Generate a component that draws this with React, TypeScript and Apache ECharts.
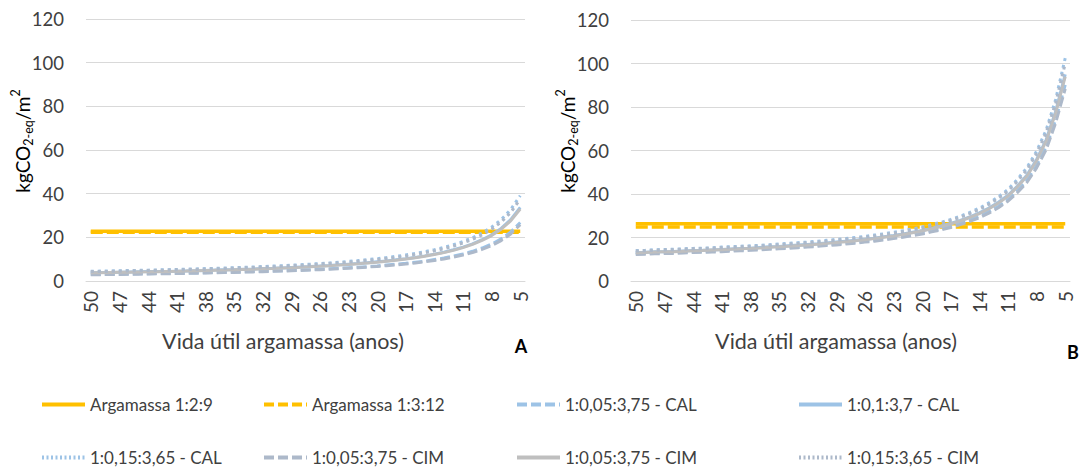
import React, { useEffect, useRef } from 'react';
import * as echarts from 'echarts';

const years = ['50','49','48','47','46','45','44','43','42','41','40','39','38','37','36','35','34','33','32','31','30','29','28','27','26','25','24','23','22','21','20','19','18','17','16','15','14','13','12','11','10','9','8','7','6','5'];

// Panel A values (kgCO2-eq/m2)
const a129 = 22.8;
const a1312 = 22.3;
const aCalDash = [3.0,3.0,3.1,3.1,3.2,3.3,3.3,3.4,3.5,3.5,3.6,3.7,3.8,3.9,4.0,4.1,4.2,4.3,4.4,4.6,4.7,4.9,5.0,5.2,5.4,5.6,5.8,6.1,6.3,6.6,6.9,7.3,7.7,8.1,8.6,9.1,9.8,10.5,11.4,12.4,13.6,15.1,16.9,19.3,22.4,26.8];
const aCalSolid = [3.8,3.9,3.9,4.0,4.1,4.2,4.3,4.3,4.4,4.5,4.6,4.7,4.8,5.0,5.1,5.2,5.4,5.5,5.7,5.8,6.0,6.2,6.4,6.6,6.9,7.1,7.4,7.7,8.0,8.4,8.8,9.2,9.7,10.2,10.8,11.5,12.3,13.2,14.3,15.5,17.0,18.9,21.2,24.1,28.1,33.7];
const aCalDot = [4.45,4.53,4.61,4.70,4.78,4.88,4.98,5.08,5.18,5.30,5.41,5.54,5.67,5.80,5.95,6.10,6.26,6.43,6.62,6.81,7.02,7.24,7.48,7.73,8.00,8.30,8.62,8.97,9.35,9.77,10.23,10.73,11.29,11.92,12.63,13.43,14.35,15.41,16.64,18.10,19.85,21.99,24.66,28.10,32.68,39.1];
const aCimDash = [2.85,2.90,2.96,3.01,3.07,3.13,3.20,3.27,3.34,3.41,3.49,3.57,3.66,3.75,3.84,3.94,4.05,4.16,4.28,4.41,4.55,4.70,4.85,5.02,5.20,5.40,5.61,5.84,6.10,6.37,6.68,7.01,7.38,7.80,8.27,8.80,9.41,10.11,10.93,11.89,13.05,14.47,16.24,18.51,21.55,25.8];
const aCimSolid = [3.75,3.82,3.89,3.96,4.03,4.11,4.19,4.28,4.37,4.46,4.56,4.67,4.78,4.89,5.01,5.14,5.28,5.42,5.58,5.74,5.92,6.10,6.30,6.52,6.75,7.00,7.27,7.57,7.89,8.24,8.63,9.05,9.53,10.06,10.66,11.33,12.11,13.00,14.04,15.27,16.75,18.56,20.81,23.71,27.58,33.0];
const aCimDot = [4.3,4.4,4.4,4.5,4.6,4.7,4.8,4.9,5.0,5.1,5.2,5.3,5.4,5.6,5.7,5.9,6.0,6.2,6.4,6.5,6.7,7.0,7.2,7.4,7.7,8.0,8.3,8.6,9.0,9.4,9.8,10.3,10.8,11.4,12.1,12.9,13.8,14.8,16.0,17.4,19.1,21.1,23.7,27.0,31.4,37.5];

// Panel B values (kgCO2-eq/m2)
const b129 = 26.3;
const b1312 = 24.8;
const bCalDash = [12.5,12.6,12.8,12.9,13.0,13.2,13.3,13.4,13.6,13.8,14.0,14.2,14.4,14.6,14.9,15.1,15.4,15.6,15.9,16.2,16.6,17.0,17.4,17.8,18.2,18.7,19.3,19.9,20.5,21.3,22.1,23.0,24.0,25.2,26.5,28.0,29.8,31.9,34.4,37.4,41.6,46.4,53.1,61.7,74.2,90.2];
const bCalSolid = [13.1,13.2,13.4,13.5,13.6,13.8,14.0,14.1,14.3,14.5,14.7,14.9,15.1,15.4,15.7,15.9,16.2,16.5,16.8,17.1,17.5,17.9,18.3,18.7,19.2,19.7,20.3,20.9,21.6,22.4,23.2,24.2,25.3,26.5,27.9,29.5,31.3,33.5,36.2,39.4,43.7,48.8,55.9,64.9,78.1,95.0];
const bCalDot = [14.0,14.1,14.4,14.5,14.6,14.8,15.0,15.1,15.3,15.6,15.8,16.0,16.2,16.4,16.7,17.0,17.3,17.6,17.9,18.3,18.7,19.1,19.5,20.0,20.5,21.1,21.7,22.4,23.1,24.0,24.8,25.9,27.0,28.3,29.8,31.5,33.5,35.9,38.7,42.1,46.8,52.2,59.7,69.4,83.5,102.5];
const bCimDash = [12.2,12.3,12.5,12.6,12.7,12.9,13.1,13.2,13.3,13.5,13.7,13.9,14.1,14.3,14.6,14.8,15.0,15.3,15.6,15.9,16.3,16.6,17.0,17.4,17.9,18.3,18.9,19.5,20.1,20.9,21.6,22.6,23.5,24.6,25.9,27.4,29.1,31.2,33.7,36.7,40.7,45.4,52.0,60.4,72.7,88.4];
const bCimSolid = [13.0,13.1,13.3,13.4,13.5,13.7,13.9,14.0,14.2,14.4,14.6,14.8,15.0,15.2,15.5,15.7,16.0,16.3,16.6,16.9,17.3,17.7,18.1,18.5,19.0,19.5,20.1,20.7,21.4,22.2,23.0,24.0,25.0,26.2,27.6,29.2,31.0,33.2,35.8,39.0,43.3,48.3,55.3,64.3,77.3,94.0];
const bCimDot = [13.8,13.9,14.1,14.3,14.4,14.6,14.8,14.9,15.1,15.3,15.5,15.7,15.9,16.1,16.4,16.7,17.0,17.3,17.6,17.9,18.3,18.7,19.2,19.6,20.1,20.7,21.3,21.9,22.7,23.5,24.4,25.4,26.5,27.8,29.3,31.0,32.9,35.2,38.0,41.3,45.9,51.2,58.6,68.1,81.9,100.0];

const names = [
  'Argamassa 1:2:9',
  'Argamassa 1:3:12',
  '1:0,05:3,75 - CAL',
  '1:0,1:3,7 - CAL',
  '1:0,15:3,65 - CAL',
  '1:0,05:3,75 - CIM',
  '1:0,05:3,75 - CIM',
  '1:0,15:3,65 - CIM',
];

const FONT = 'Lato';
const TXT = '#404040';
const YEL = '#FFC000';
const BLUE = '#9DC3E6';
const GBLUE = '#ADB9CA';
const GRAY = '#BFBFBF';

const styles = [
  { color: YEL, type: 'solid', width: 3.5 },
  { color: YEL, type: [12, 4], width: 3.5 },
  { color: BLUE, type: [10, 4], width: 3 },
  { color: BLUE, type: 'solid', width: 3 },
  { color: BLUE, type: [3, 4], width: 3 },
  { color: GBLUE, type: [10, 4], width: 3 },
  { color: GRAY, type: 'solid', width: 3 },
  { color: GBLUE, type: [3, 4], width: 3 },
];

const legendDash: any[] = ['solid', [10, 4], [10, 4], 'solid', [2, 2.5], [10, 4], 'solid', [2, 2.5]];

function panelSeries(idx: number, vals: (number[])[]) {
  return vals.map((data, i) => ({
    type: 'line',
    name: names[i],
    xAxisIndex: idx,
    yAxisIndex: idx,
    data,
    symbol: 'none',
    showSymbol: false,
    lineStyle: { color: styles[i].color, type: styles[i].type, width: styles[i].width, cap: 'butt' },
    itemStyle: { color: styles[i].color },
    silent: true,
  }));
}

const legendPos = [
  [40, 396], [262, 396], [515, 396], [797, 396],
  [40, 449], [262, 449], [515, 449], [797, 449],
];

export default function App() {
  const ref = useRef<HTMLDivElement>(null);
  useEffect(() => {
    document.body.style.margin = '0';
    const chart = echarts.init(ref.current as HTMLDivElement, null, { renderer: 'svg' });

    const xAxisBase = (gridIndex: number) => ({
      type: 'category',
      gridIndex,
      data: years,
      boundaryGap: true,
      axisLine: { show: true, lineStyle: { color: '#d9d9d9', width: 1 } },
      axisTick: { show: false },
      axisLabel: { interval: 2, rotate: 90, fontSize: 19, fontFamily: FONT, color: TXT, margin: 10 },
    });
    const yAxisBase = (gridIndex: number) => ({
      type: 'value',
      gridIndex,
      min: 0,
      max: 120,
      interval: 20,
      axisLine: { show: false },
      axisTick: { show: false },
      splitLine: { lineStyle: { color: '#d9d9d9', width: 1 } },
      axisLabel: { fontSize: 18.5, fontFamily: FONT, color: TXT, margin: 22 },
    });

    const rich = {
      a: { fontSize: 19, fontFamily: FONT, color: TXT, lineHeight: 26 },
      s: { fontSize: 12.5, fontFamily: FONT, color: TXT, verticalAlign: 'bottom', lineHeight: 13 },
      p: { fontSize: 12.5, fontFamily: FONT, color: TXT, verticalAlign: 'top', lineHeight: 13 },
    };
    const yTitle = '{a|kgCO}{s|2-eq}{a|/m}{p|2}';

    const legends = names.map((nm, i) => {
      const item: any = {
        name: nm,
        lineStyle: { color: styles[i].color, type: legendDash[i], width: 4 },
      };
      return {
        left: legendPos[i][0],
        top: legendPos[i][1],
        orient: 'horizontal',
        itemWidth: 43,
        itemHeight: 14,
        selectedMode: false,
        padding: 0,
        itemStyle: { opacity: 0, borderWidth: 0 },
        textStyle: { fontSize: 17, fontFamily: FONT, color: TXT },
        data: [item],
      };
    });

    const option: any = {
      animation: false,
      backgroundColor: '#ffffff',
      grid: [
        { left: 86, top: 19, width: 439, height: 262 },
        { left: 631, top: 20, width: 439, height: 261 },
      ],
      xAxis: [xAxisBase(0), xAxisBase(1)],
      yAxis: [yAxisBase(0), yAxisBase(1)],
      legend: legends,
      series: [
        ...panelSeries(0, [years.map(() => a129), years.map(() => a1312), aCalDash, aCalSolid, aCalDot, aCimDash, aCimSolid, aCimDot]),
        ...panelSeries(1, [years.map(() => b129), years.map(() => b1312), bCalDash, bCalSolid, bCalDot, bCimDash, bCimSolid, bCimDot]),
      ],
      graphic: [
        { type: 'text', x: 22, y: 141, rotation: Math.PI / 2, style: { text: yTitle, rich, align: 'center', verticalAlign: 'middle' } },
        { type: 'text', x: 567, y: 141, rotation: Math.PI / 2, style: { text: yTitle, rich, align: 'center', verticalAlign: 'middle' } },
        { type: 'text', x: 283, y: 341, style: { text: 'Vida útil argamassa (anos)', fontSize: 21.5, fontFamily: FONT, fill: TXT, align: 'center', verticalAlign: 'middle' } },
        { type: 'text', x: 836, y: 341, style: { text: 'Vida útil argamassa (anos)', fontSize: 21.5, fontFamily: FONT, fill: TXT, align: 'center', verticalAlign: 'middle' } },
        { type: 'text', x: 521, y: 346, style: { text: 'A', fontSize: 18, fontWeight: 'bold', fontFamily: FONT, fill: '#000', align: 'center', verticalAlign: 'middle' } },
        { type: 'text', x: 1073, y: 352, style: { text: 'B', fontSize: 18, fontWeight: 'bold', fontFamily: FONT, fill: '#000', align: 'center', verticalAlign: 'middle' } },
      ],
    };
    chart.setOption(option);
    return () => chart.dispose();
  }, []);
  return <div ref={ref} style={{ width: 1080, height: 470 }} />;
}
